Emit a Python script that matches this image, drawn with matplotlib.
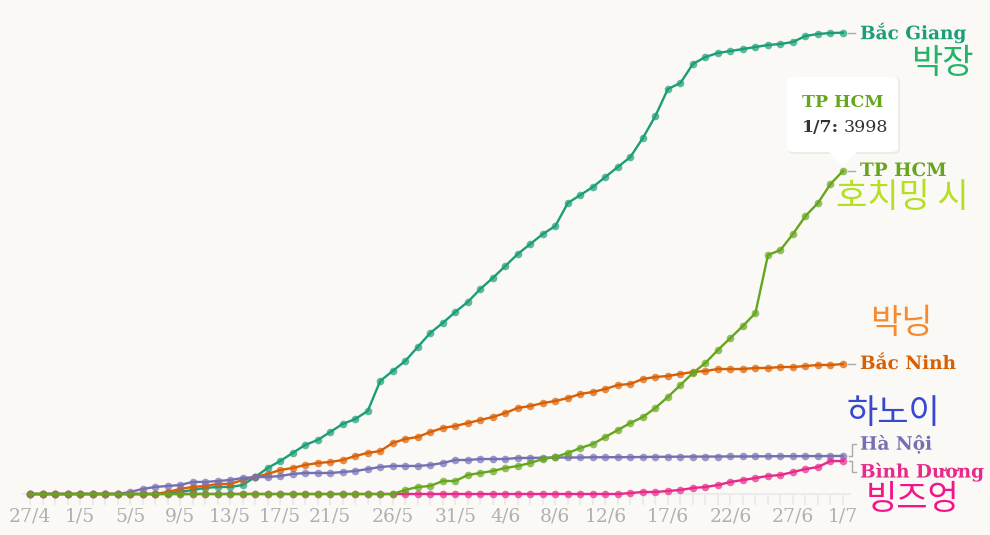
import matplotlib.pyplot as plt
import matplotlib.patheffects as pe
from matplotlib.patches import FancyBboxPatch, Polygon
import numpy as np

# cumulative cases, one value per day from 27/4 to 1/7
days = np.arange(66)
tick_days = [0, 4, 8, 12, 16, 20, 24, 29, 34, 38, 42, 46, 51, 56, 61, 65]
tick_labels = ['27/4', '1/5', '5/5', '9/5', '13/5', '17/5', '21/5', '26/5', '31/5',
               '4/6', '8/6', '12/6', '17/6', '22/6', '27/6', '1/7']

bac_giang = [0, 0, 0, 0, 0, 0, 0, 0, 0, 0, 0, 12, 25, 50, 74, 87, 87, 111, 210, 322,
             408, 508, 607, 668, 767, 867, 928, 1027, 1399, 1523, 1646, 1820, 1993, 2117,
             2253, 2377, 2537, 2674, 2822, 2971, 3095, 3218, 3317, 3602, 3701, 3800, 3924,
             4048, 4171, 4407, 4679, 5013, 5087, 5323, 5409, 5459, 5483, 5508, 5533, 5558,
             5570, 5595, 5669, 5694, 5706, 5710]
bac_ninh = [0, 0, 0, 0, 0, 0, 0, 0, 0, 0, 0, 25, 62, 87, 99, 124, 124, 173, 210, 248,
            297, 322, 359, 384, 396, 421, 470, 508, 532, 631, 681, 706, 767, 817, 842, 879,
            916, 953, 1003, 1065, 1089, 1126, 1151, 1188, 1238, 1263, 1300, 1349, 1362, 1424,
            1448, 1461, 1486, 1510, 1523, 1547, 1547, 1547, 1560, 1560, 1572, 1572, 1584,
            1597, 1597, 1609]
ha_noi = [0, 0, 0, 0, 0, 0, 0, 0, 25, 62, 87, 99, 111, 149, 149, 161, 173, 198, 210, 210,
          223, 248, 260, 260, 260, 272, 285, 309, 334, 347, 347, 347, 359, 384, 421, 421,
          433, 433, 433, 446, 446, 450, 452, 452, 452, 455, 455, 456, 456, 458, 460, 461,
          462, 463, 463, 464, 465, 465, 466, 467, 468, 468, 469, 469, 470, 471]
binh_duong = [0] * 48 + [12, 25, 25, 37, 50, 74, 87, 111, 149, 173, 198, 223, 235, 272,
                         309, 334, 408, 408]
tp_hcm = [0] * 30 + [50, 87, 99, 161, 161, 235, 260, 285, 322, 347, 384, 433, 458, 508,
                     569, 619, 706, 792, 879, 953, 1065, 1201, 1349, 1498, 1622, 1783, 1931,
                     2080, 2240, 2958, 3020, 3218, 3441, 3602, 3837, 3998]

names = ['Bắc Giang', 'Bắc Ninh', 'Hà Nội', 'Bình Dương', 'TP HCM']
series = [bac_giang, bac_ninh, ha_noi, binh_duong, tp_hcm]
colors = ['#1b9e77', '#d95f02', '#7570b3', '#e7298a', '#66a61e']
label_dy = [0, 0, 12, -11, 0]  # pixel nudges for the end labels

korean = ['박장', '박닝', '하노이', '빙즈엉', '호치밍 시']
korean_colors = ['#22b56a', '#f7892f', '#3848d0', '#f4148a', '#b5e021']
korean_pos = [(911, 63), (870, 323), (846, 413), (866, 500), (836, 198)]

bg = '#faf9f6'
W, H = 990, 535
fig = plt.figure(figsize=(9.9, 5.35), dpi=100, facecolor=bg)
ax = fig.add_axes([23 / W, 1 - 494 / H, (850 - 23) / W, (494 - 20) / H])
ax.set_facecolor(bg)

for vals, c in zip(series, colors):
    ax.plot(days, vals, color=c, lw=1.7, marker='o', ms=5.5,
            mfc=plt.matplotlib.colors.to_rgba(c, 0.7), mec='none', clip_on=False, zorder=3)

ax.set_xlim(-0.56, 65.56)
ax.set_ylim(0, (494 - 20) * 3998 / 323)
ax.set_yticks([])
for s in ['top', 'right', 'left']:
    ax.spines[s].set_visible(False)
ax.spines['bottom'].set_color('#ebebeb')
ax.spines['bottom'].set_linewidth(1.5)
ax.set_xticks(tick_days)
ax.set_xticklabels(tick_labels, family='DejaVu Serif', fontsize=13.5, color='#b0b0b0')
ax.set_xticks(days, minor=True)
ax.tick_params(axis='x', which='both', length=8, width=1.5, color='#ebebeb', pad=2)

halo = [pe.withStroke(linewidth=3, foreground=bg)]
for name, vals, c, dy in zip(names, series, colors, label_dy):
    ax.annotate(name, xy=(days[-1], vals[-1]), xytext=(17, dy), textcoords='offset pixels',
                va='center', ha='left', fontsize=13.3, fontweight='bold',
                family='DejaVu Serif', color=c, path_effects=halo, annotation_clip=False)

# connectors between line ends and labels
def px(x, y):
    return x / W, 1 - y / H

for y in [33, 171, 364]:
    fig.add_artist(plt.Line2D([848 / W, 855 / W], [1 - y / H] * 2, color='#aaaaaa', lw=1))
for pts in [[(849, 456), (852, 456), (852, 444), (856, 444)],
            [(849, 461), (852, 461), (852, 472), (856, 472)]]:
    xs, ys = zip(*[px(*p) for p in pts])
    fig.add_artist(plt.Line2D(xs, ys, color='#aaaaaa', lw=1))

for txt, c, (x, y) in zip(korean, korean_colors, korean_pos):
    fig.text(x / W, 1 - y / H, txt, color=c, fontsize=24.5, family='Noto Sans CJK KR',
             fontweight='light', va='center', ha='left')

# tooltip
shadow = FancyBboxPatch(px(788, 154), 112 / W, 77 / H, boxstyle='round,pad=0,rounding_size=0.007',
                        transform=fig.transFigure, fc='#000000', alpha=0.05, ec='none')
box = FancyBboxPatch(px(787, 152), 111 / W, 75 / H, boxstyle='round,pad=0,rounding_size=0.007',
                     transform=fig.transFigure, fc='white', ec='none')
tri = Polygon([px(828, 151), px(858, 151), px(843, 166)], closed=True,
              transform=fig.transFigure, fc='white', ec='none')
fig.add_artist(shadow)
fig.add_artist(box)
fig.add_artist(tri)
fig.text(802 / W, 1 - 102 / H, 'TP HCM', color='#66a61e', fontsize=12.5, fontweight='bold',
         family='DejaVu Serif', va='center')
fig.text(802 / W, 1 - 127 / H, '1/7:', color='#333333', fontsize=12.5, fontweight='bold',
         family='DejaVu Serif', va='center')
fig.text(844 / W, 1 - 127 / H, '3998', color='#333333', fontsize=12.5,
         family='DejaVu Serif', va='center')

fig.savefig('out.png', dpi=100, facecolor=bg)
